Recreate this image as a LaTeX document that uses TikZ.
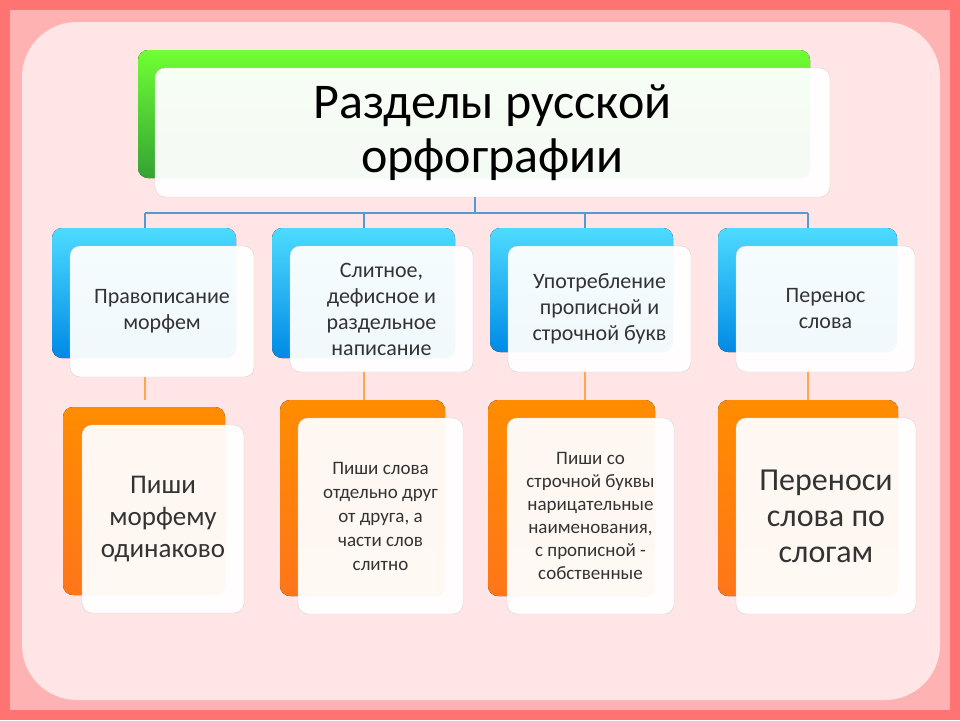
\documentclass[tikz,border=0pt]{standalone}
\usepackage{fontspec}
\setmainfont{Carlito}
\begin{document}
\begin{tikzpicture}[x=1pt,y=-1pt,
 back/.style={rounded corners=10pt},
 front/.style={rounded corners=10pt,fill=white,fill opacity=0.95,draw=gray!35,text opacity=1,align=center,text=black!80},
 link/.style={draw=cyan!60!blue!70,line width=1.2pt},
 olink/.style={draw=orange!70,line width=1.2pt}]
\useasboundingbox (0,0) rectangle (960,720);
\fill[red!55!white] (0,0) rectangle (960,720);
\fill[red!30!white] (10,10) rectangle (950,710);
\fill[rounded corners=55pt,fill=red!10!white] (22,22) rectangle (940,700);
% title
\fill[back,top color=green!60!lime!80,bottom color=green!55!black!80] (138,50) rectangle (810,178);
\node[front,text=black,minimum width=675pt,minimum height=129pt,font=\fontsize{50}{54}\selectfont] (t) at (492.5,132.5) {Разделы русской\\орфографии};
\coordinate (hub) at (475,213);
% level 1
\foreach \n/\xb/\xf/\yb/\yf/\wb/\hf/\txt in {
 a/52/70/358/377/184/131/{Правописание\\морфем},
 b/272/290/358/372/183/126/{Слитное,\\дефисное и\\раздельное\\написание},
 c/490/508/352/372/183/126/{Употребление\\прописной и\\строчной букв},
 d/718/736/352/372/179/126/{Перенос\\слова}}{
 \fill[back,top color=cyan!80!blue!70,bottom color=cyan!60!blue!90!black] (\xb,228) rectangle ++(\wb,\yb-228);
 \node[front,font=\fontsize{22}{26}\selectfont,minimum width=\wb pt,minimum height=\hf pt,inner sep=2pt] (\n) at (\xf+\wb/2,{(246+\yf)/2}) {\txt};
}
\draw[link] (t.south -| hub) -- (hub);
\draw[link] (145,213) -- (808,213);
\foreach \x in {145,364,585,808}{\draw[link] (\x,213) -- (\x,228);}
% level 2
\foreach \n/\xb/\xf/\yb/\yf/\wb/\hb/\fs/\bs/\txt in {
 e/63/82/407/425/162/188/27/32/{Пиши\\морфему\\одинаково},
 f/280/298/400/418/165/196/19/24/{Пиши слова\\отдельно друг\\от друга, а\\части слов\\слитно},
 g/488/507/400/418/167/196/19/23/{Пиши со\\строчной буквы\\нарицательные\\наименования,\\с прописной -\\собственные},
 h/718/736/400/418/180/196/32/36/{Переноси\\слова по\\слогам}}{
 \fill[back,top color=orange!90!yellow,bottom color=orange!80!red!90] (\xb,\yb) rectangle ++(\wb,\hb);
 \node[front,font=\fontsize{\fs}{\bs}\selectfont,minimum width=\wb pt,minimum height=\hb pt,inner sep=2pt] (\n) at (\xf+\wb/2,\yf+\hb/2) {\txt};
}
\foreach \x/\y in {145/377,364/372,585/372,808/372}{\draw[olink] (\x,\y) -- (\x,400);}
\end{tikzpicture}
\end{document}
